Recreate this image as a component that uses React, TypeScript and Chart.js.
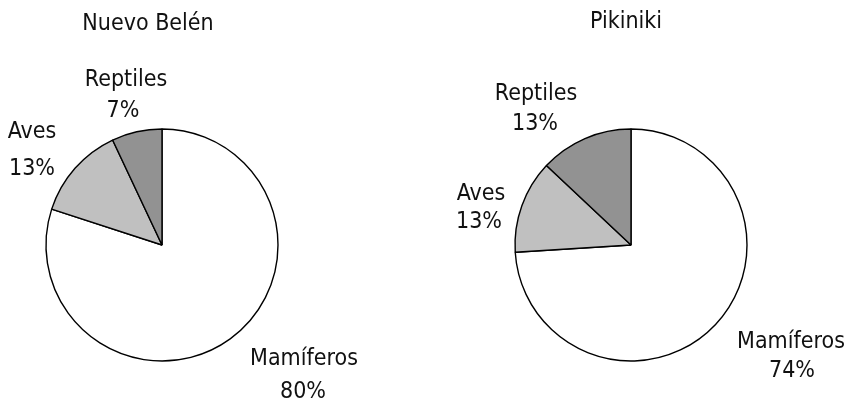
import React, { useEffect, useRef } from "react";
import { Chart, registerables } from "chart.js";

Chart.register(...registerables);

// ---- data ----
const CATEGORIES = ["Mamíferos", "Aves", "Reptiles"];
const NUEVO_BELEN_VALUES = [80, 13, 7];
const PIKINIKI_VALUES = [74, 13, 13];
const CHART_TITLES = ["Nuevo Belén", "Pikiniki"];

// ---- styles ----
const SLICE_COLORS = ["#ffffff", "#c0c0c0", "#929292"];
const FONT_FAMILY = '"DejaVu Sans Condensed", "Liberation Sans Narrow", "Liberation Sans", sans-serif';
const FONT_SIZE = 23;

type LabelPos = { dx: number; dy: number; dx2: number; dy2: number };
type Layout = { title: { dx: number; dy: number }; labels: LabelPos[] };

// label anchor offsets relative to the pie centre (text centre x, baseline y)
const LAYOUT_LEFT: Layout = {
  title: { dx: -14, dy: -215 },
  labels: [
    { dx: 142, dy: 120, dx2: 141, dy2: 153 },
    { dx: -130, dy: -107, dx2: -130, dy2: -70 },
    { dx: -36, dy: -159, dx2: -39, dy2: -128 },
  ],
};
const LAYOUT_RIGHT: Layout = {
  title: { dx: -5, dy: -217 },
  labels: [
    { dx: 160, dy: 103, dx2: 161, dy2: 132 },
    { dx: -150, dy: -45, dx2: -152, dy2: -17 },
    { dx: -95, dy: -145, dx2: -96, dy2: -115 },
  ],
};

function labelPlugin(title: string, layout: Layout) {
  return {
    id: "sliceLabels",
    afterDraw(chart: any) {
      const meta = chart.getDatasetMeta(0);
      const arcs = meta.data;
      if (!arcs.length) return;
      const cx = arcs[0].x;
      const cy = arcs[0].y;
      const ctx = chart.ctx;
      const values = chart.data.datasets[0].data as number[];
      ctx.save();
      ctx.fillStyle = "#111";
      ctx.textAlign = "center";
      ctx.textBaseline = "alphabetic";
      ctx.font = `${FONT_SIZE}px ${FONT_FAMILY}`;
      ctx.fillText(title, cx + layout.title.dx, cy + layout.title.dy);
      arcs.forEach((_: any, i: number) => {
        const p = layout.labels[i];
        ctx.fillText(String(chart.data.labels[i]), cx + p.dx, cy + p.dy);
        ctx.fillText(`${values[i]}%`, cx + p.dx2, cy + p.dy2);
      });
      ctx.restore();
    },
  };
}

function PieChart(props: {
  values: number[];
  title: string;
  layout: Layout;
  left: number;
  width: number;
  padLeft: number;
}) {
  const ref = useRef<HTMLCanvasElement>(null);
  useEffect(() => {
    const R = 116;
    const chart = new Chart(ref.current as HTMLCanvasElement, {
      type: "pie",
      data: {
        labels: CATEGORIES,
        datasets: [
          {
            data: props.values,
            backgroundColor: SLICE_COLORS,
            borderColor: "#000000",
            borderWidth: 1.4,
            radius: R,
          } as any,
        ],
      },
      options: {
        responsive: false,
        animation: false,
        events: [],
        layout: {
          padding: {
            left: props.padLeft,
            right: props.width - props.padLeft - 2 * R,
            top: 129,
            bottom: 404 - 129 - 2 * R,
          },
        },
        plugins: {
          legend: { display: false },
          tooltip: { enabled: false },
          title: { display: false },
        },
      },
      plugins: [labelPlugin(props.title, props.layout)],
    });
    return () => chart.destroy();
  }, []);
  return (
    <canvas
      ref={ref}
      width={props.width}
      height={404}
      style={{ position: "absolute", left: props.left, top: 0, width: props.width, height: 404 }}
    />
  );
}

export default function App() {
  return (
    <div style={{ position: "absolute", left: 0, top: 0, width: 849, height: 404, background: "#fff" }}>
      <PieChart values={NUEVO_BELEN_VALUES} title={CHART_TITLES[0]} layout={LAYOUT_LEFT} left={0} width={425} padLeft={46} />
      <PieChart values={PIKINIKI_VALUES} title={CHART_TITLES[1]} layout={LAYOUT_RIGHT} left={425} width={424} padLeft={90} />
    </div>
  );
}
